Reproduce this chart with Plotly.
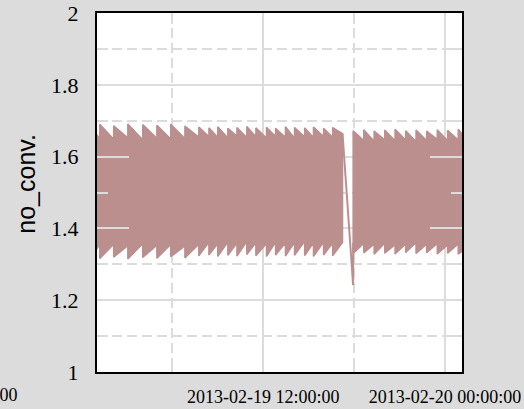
import plotly.graph_objects as go

# ---- data ----
left_bounds = ["2013-02-19 00:33", "2013-02-19 01:13", "2013-02-19 02:08", "2013-02-19 03:04",
               "2013-02-19 04:03", "2013-02-19 04:59", "2013-02-19 05:54", "2013-02-19 06:50",
               "2013-02-19 07:45", "2013-02-19 08:25", "2013-02-19 09:00", "2013-02-19 09:40",
               "2013-02-19 10:16", "2013-02-19 10:55", "2013-02-19 11:31", "2013-02-19 12:13",
               "2013-02-19 12:49", "2013-02-19 13:28", "2013-02-19 14:04", "2013-02-19 14:44",
               "2013-02-19 15:19", "2013-02-19 15:59", "2013-02-19 16:35", "2013-02-19 17:14"]
left_up_peak = [1.688, 1.690, 1.686, 1.691, 1.689, 1.687, 1.690, 1.685,
                1.682, 1.680, 1.683, 1.679, 1.681, 1.684, 1.680, 1.682,
                1.679, 1.683, 1.681, 1.680, 1.682, 1.679, 1.681]
left_up_valley = [1.650, 1.648, 1.652, 1.647, 1.651, 1.649, 1.650, 1.654,
                  1.656, 1.654, 1.652, 1.657, 1.653, 1.655, 1.652, 1.656,
                  1.654, 1.651, 1.655, 1.653, 1.656, 1.654, 1.664]
left_lo_trough = [1.318, 1.316, 1.320, 1.315, 1.319, 1.317, 1.321, 1.318,
                  1.324, 1.326, 1.322, 1.325, 1.323, 1.327, 1.324, 1.322,
                  1.326, 1.323, 1.325, 1.324, 1.322, 1.326, 1.324]
left_lo_crest = [1.354, 1.356, 1.352, 1.357, 1.353, 1.355, 1.351, 1.356,
                 1.361, 1.358, 1.362, 1.359, 1.363, 1.360, 1.358, 1.362,
                 1.359, 1.361, 1.364, 1.360, 1.362, 1.359, 1.361]

right_bounds = ["2013-02-19 17:56", "2013-02-19 18:38", "2013-02-19 19:19", "2013-02-19 20:01",
                "2013-02-19 20:42", "2013-02-19 21:24", "2013-02-19 22:05", "2013-02-19 22:47",
                "2013-02-19 23:29", "2013-02-20 00:10", "2013-02-20 00:52", "2013-02-20 01:33"]
right_up_peak = [1.672, 1.675, 1.671, 1.674, 1.676, 1.672, 1.674, 1.671, 1.675, 1.673, 1.676]
right_up_valley = [1.645, 1.643, 1.647, 1.644, 1.646, 1.642, 1.645, 1.648, 1.644, 1.646, 1.643]
right_lo_trough = [1.330, 1.332, 1.328, 1.331, 1.329, 1.333, 1.330, 1.332, 1.329, 1.331, 1.328]
right_lo_crest = [1.358, 1.356, 1.359, 1.355, 1.357, 1.360, 1.356, 1.358, 1.354, 1.357, 1.350]

gap_times = ["2013-02-19 17:14", "2013-02-19 17:56", "2013-02-19 17:56"]
gap_values = [1.664, 1.242, 1.36]

y_title = "no_conv."
x_range = ["2013-02-19 01:02", "2013-02-20 01:07"]
y_range = [1, 2]

COLOR = "#bc8f8f"
GRID = "#dcdcdc"


def band(bounds, up_peak, up_valley, lo_trough, lo_crest):
    ux, uy, lx, ly = [], [], [], []
    for k in range(len(up_peak)):
        ux += [bounds[k], bounds[k + 1]]
        uy += [up_peak[k], up_valley[k]]
        lx += [bounds[k], bounds[k + 1]]
        ly += [lo_trough[k], lo_crest[k]]
    return ux + lx[::-1] + [ux[0]], uy + ly[::-1] + [uy[0]]


fig = go.Figure()
for args in [(left_bounds, left_up_peak, left_up_valley, left_lo_trough, left_lo_crest),
             (right_bounds, right_up_peak, right_up_valley, right_lo_trough, right_lo_crest)]:
    bx, by = band(*args)
    fig.add_trace(go.Scatter(x=bx, y=by, mode="lines", fill="toself", fillcolor=COLOR,
                             line=dict(color=COLOR, width=1.5), hoverinfo="skip",
                             showlegend=False))
fig.add_trace(go.Scatter(x=gap_times, y=gap_values, mode="lines",
                         line=dict(color=COLOR, width=2), showlegend=False))

tickfont = dict(family="Liberation Serif", size=22, color="black")
xtickfont = dict(family="Liberation Serif", size=18, color="black")
fig.update_layout(
    width=524, height=409, autosize=False,
    margin=dict(l=97, r=62, t=13, b=37),
    paper_bgcolor="#dcdcdc", plot_bgcolor="white",
    showlegend=False,
)
fig.update_xaxes(
    type="date", range=x_range, tick0="2013-02-19 00:00:00", dtick=12 * 3600 * 1000,
    tickformat="%Y-%m-%d %H:%M:%S", tickfont=xtickfont,
    ticks="inside", ticklen=32, tickwidth=2, tickcolor=GRID,
    showgrid=True, gridcolor=GRID, gridwidth=2,
    minor=dict(dtick=6 * 3600 * 1000, ticks="inside", ticklen=11, tickwidth=2, tickcolor=GRID,
               showgrid=True, gridcolor=GRID, gridwidth=2, griddash="10px,5px"),
    showline=True, linecolor="black", linewidth=2, mirror="ticks",
    zeroline=False, automargin=False, ticklabelstandoff=7,
)
fig.update_yaxes(
    range=y_range, dtick=0.2, tick0=1, tickfont=tickfont,
    ticks="inside", ticklen=32, tickwidth=2, tickcolor=GRID,
    showgrid=True, gridcolor=GRID, gridwidth=2,
    minor=dict(dtick=0.1, ticks="inside", ticklen=11, tickwidth=2, tickcolor=GRID,
               showgrid=True, gridcolor=GRID, gridwidth=2, griddash="10px,5px"),
    showline=True, linecolor="black", linewidth=2, mirror="ticks",
    zeroline=False, automargin=False, ticklabelstandoff=12,
)

titlefont = dict(family="Liberation Sans", size=25, color="black")
fig.add_annotation(text=y_title, xref="paper", yref="paper", x=-0.195, y=0.524,
                   xanchor="center", yanchor="middle", textangle=-90, showarrow=False,
                   font=titlefont)
fig.add_annotation(text=y_title, xref="paper", yref="paper", x=1.188, y=0.51,
                   xanchor="center", yanchor="middle", textangle=-90, showarrow=False,
                   font=titlefont)
fig.add_annotation(text="2013-02-20 00:00:00", xref="paper", yref="paper", x=-0.211, y=-0.064,
                   xanchor="right", yanchor="middle", showarrow=False, font=xtickfont)

fig.write_html("out.html", post_script="document.body.style.margin='0px';",
               config={"displayModeBar": False})
